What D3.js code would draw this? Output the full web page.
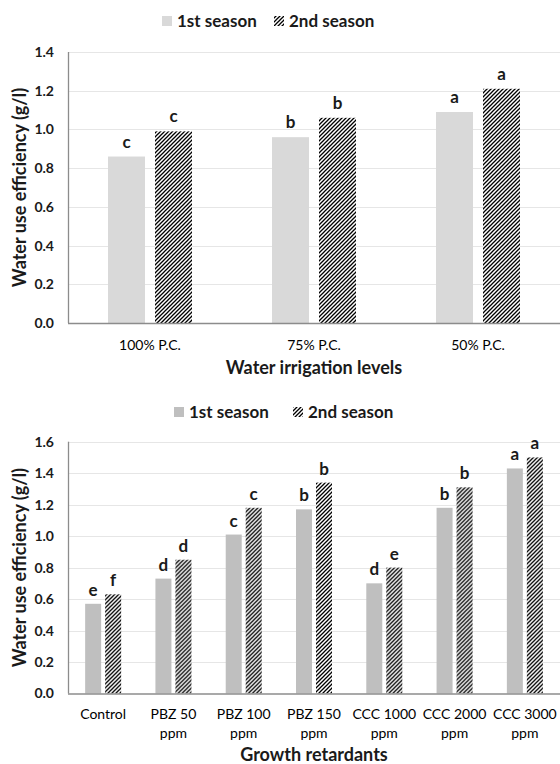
<!DOCTYPE html>
<html>
<head>
<meta charset="utf-8">
<script src="https://cdn.jsdelivr.net/npm/d3@7/dist/d3.min.js"></script>
<style>
  html, body { margin: 0; padding: 0; background: #ffffff; }
  svg { display: block; font-family: Lato, "Open Sans", sans-serif; }
</style>
</head>
<body>
<svg id="chart" width="560" height="764"></svg>
<script>
// ---------- data ----------
const seriesNames = ["1st season", "2nd season"];

const topCategories = ["100% P.C.", "75% P.C.", "50% P.C."];
const topFirst = [0.86, 0.96, 1.09];
const topSecond = [0.99, 1.06, 1.21];
const topLettersFirst = ["c", "b", "a"];
const topLettersSecond = ["c", "b", "a"];
const topTicks = [0, 0.2, 0.4, 0.6, 0.8, 1.0, 1.2, 1.4];

const botCategories = ["Control", "PBZ 50\nppm", "PBZ 100\nppm", "PBZ 150\nppm", "CCC 1000\nppm", "CCC 2000\nppm", "CCC 3000\nppm"];
const botFirst = [0.57, 0.73, 1.01, 1.17, 0.70, 1.18, 1.43];
const botSecond = [0.63, 0.85, 1.18, 1.34, 0.80, 1.31, 1.50];
const botLettersFirst = ["e", "d", "c", "b", "d", "b", "a"];
const botLettersSecond = ["f", "d", "c", "b", "e", "b", "a"];
const botTicks = [0, 0.2, 0.4, 0.6, 0.8, 1.0, 1.2, 1.4, 1.6];

// ---------- drawing ----------
const svg = d3.select("#chart");
const defs = svg.append("defs");
const pat = defs.append("pattern")
  .attr("id", "hatch")
  .attr("patternUnits", "userSpaceOnUse")
  .attr("width", 4).attr("height", 4);
pat.append("rect").attr("width", 4).attr("height", 4).attr("fill", "#ffffff");
pat.append("path")
  .attr("d", "M-1,1 L1,-1 M0,4 L4,0 M3,5 L5,3")
  .attr("stroke", "#000000").attr("stroke-width", 1.3);

const textColor = "#1a1a1a";

function drawPanel(cfg) {
  const g = svg.append("g");
  const x = d3.scaleBand().domain(cfg.categories).range([cfg.left, cfg.right]);
  const y = d3.scaleLinear().domain([0, cfg.ticks[cfg.ticks.length - 1]]).range([cfg.bottom, cfg.top]);

  // gridlines
  g.append("g").selectAll("line").data(cfg.ticks.slice(1)).join("line")
    .attr("x1", cfg.left).attr("x2", cfg.right)
    .attr("y1", d => Math.round(y(d)) + 0.5).attr("y2", d => Math.round(y(d)) + 0.5)
    .attr("stroke", "#e6e6e6").attr("stroke-width", 1);

  // y axis
  const yAxis = d3.axisLeft(y).tickValues(cfg.ticks).tickFormat(d3.format(".1f")).tickSize(0).tickPadding(14);
  const ya = g.append("g").attr("transform", `translate(${cfg.left},0)`).call(yAxis);
  ya.select(".domain").remove();
  ya.selectAll("text").attr("fill", textColor).attr("font-size", cfg.tickFont).attr("font-weight", "bold")
    .attr("font-family", "Lato, sans-serif");
  g.append("line")
    .attr("x1", cfg.left + 0.5).attr("x2", cfg.left + 0.5)
    .attr("y1", y(cfg.ticks[cfg.ticks.length - 1])).attr("y2", cfg.bottom)
    .attr("stroke", "#8c8c8c").attr("stroke-width", 1.3);

  // bars
  const groupW = cfg.barW * 2 + cfg.gap;
  const data = cfg.categories.map((c, i) => ({ c, v1: cfg.first[i], v2: cfg.second[i], l1: cfg.l1[i], l2: cfg.l2[i] }));
  const grp = g.append("g").selectAll("g").data(data).join("g")
    .attr("transform", d => `translate(${x(d.c) + x.bandwidth() / 2 - groupW / 2},0)`);
  grp.append("rect")
    .attr("x", 0).attr("width", cfg.barW)
    .attr("y", d => y(d.v1)).attr("height", d => y(0) - y(d.v1))
    .attr("fill", cfg.color1);
  grp.append("rect")
    .attr("x", cfg.barW + cfg.gap).attr("width", cfg.barW)
    .attr("y", d => y(d.v2)).attr("height", d => y(0) - y(d.v2))
    .attr("fill", "url(#hatch)");
  grp.append("text")
    .attr("x", cfg.barW / 2).attr("y", d => y(d.v1) - cfg.labelGap)
    .attr("text-anchor", "middle").attr("font-size", cfg.letterFont).attr("font-weight", "bold")
    .attr("fill", textColor).text(d => d.l1);
  grp.append("text")
    .attr("x", cfg.barW * 1.5 + cfg.gap).attr("y", d => y(d.v2) - cfg.labelGap)
    .attr("text-anchor", "middle").attr("font-size", cfg.letterFont).attr("font-weight", "bold")
    .attr("fill", textColor).text(d => d.l2);

  // x axis line
  g.append("line")
    .attr("x1", cfg.left).attr("x2", cfg.right)
    .attr("y1", cfg.bottom + 0.5).attr("y2", cfg.bottom + 0.5)
    .attr("stroke", "#8c8c8c").attr("stroke-width", 1.3);

  // category labels
  const xa = g.append("g").selectAll("text").data(cfg.categories).join("text")
    .attr("x", d => x(d) + x.bandwidth() / 2)
    .attr("y", cfg.catY)
    .attr("text-anchor", "middle").attr("font-size", cfg.catFont).attr("font-weight", "normal")
    .attr("fill", "#000000");
  xa.each(function (d) {
    const lines = d.split("\n");
    const t = d3.select(this);
    lines.forEach((ln, i) => {
      t.append("tspan").attr("x", x(d) + x.bandwidth() / 2).attr("dy", i === 0 ? 0 : cfg.catLine).text(ln);
    });
  });

  // axis titles
  g.append("text")
    .attr("x", (cfg.left + cfg.right) / 2).attr("y", cfg.xTitleY)
    .attr("text-anchor", "middle").attr("font-size", 18).attr("font-weight", "bold")
    .attr("fill", textColor).text(cfg.xTitle);
  g.append("text")
    .attr("transform", `translate(26,${(cfg.top + cfg.bottom) / 2}) rotate(-90)`)
    .attr("text-anchor", "middle").attr("font-size", 18).attr("font-weight", "bold")
    .attr("fill", textColor).text("Water use efficiency (g/l)");

  // legend
  const lg = g.append("g");
  lg.append("rect").attr("x", cfg.leg1X).attr("y", cfg.legY - 11).attr("width", 10).attr("height", 10).attr("fill", cfg.color1);
  lg.append("text").attr("x", cfg.leg1X + 15).attr("y", cfg.legY).attr("font-size", 17).attr("font-weight", "bold")
    .attr("fill", textColor).text(seriesNames[0]);
  lg.append("rect").attr("x", cfg.leg2X).attr("y", cfg.legY - 11).attr("width", 10).attr("height", 10).attr("fill", "url(#hatch)");
  lg.append("text").attr("x", cfg.leg2X + 15).attr("y", cfg.legY).attr("font-size", 17).attr("font-weight", "bold")
    .attr("fill", textColor).text(seriesNames[1]);
}

drawPanel({
  categories: topCategories, first: topFirst, second: topSecond,
  l1: topLettersFirst, l2: topLettersSecond, ticks: topTicks,
  left: 68, right: 560, top: 52, bottom: 323,
  barW: 37, gap: 10, color1: "#d9d9d9",
  labelGap: 9, letterFont: 17, tickFont: 14, catFont: 14, catY: 350, catLine: 20,
  xTitle: "Water irrigation levels", xTitleY: 374,
  legY: 27, leg1X: 162, leg2X: 274
});

drawPanel({
  categories: botCategories, first: botFirst, second: botSecond,
  l1: botLettersFirst, l2: botLettersSecond, ticks: botTicks,
  left: 68, right: 560, top: 441.7, bottom: 693.5,
  barW: 16, gap: 4, color1: "#bfbfbf",
  labelGap: 8, letterFont: 17, tickFont: 14, catFont: 14, catY: 719, catLine: 19,
  xTitle: "Growth retardants", xTitleY: 761,
  legY: 418, leg1X: 174, leg2X: 293
});
</script>
</body>
</html>
